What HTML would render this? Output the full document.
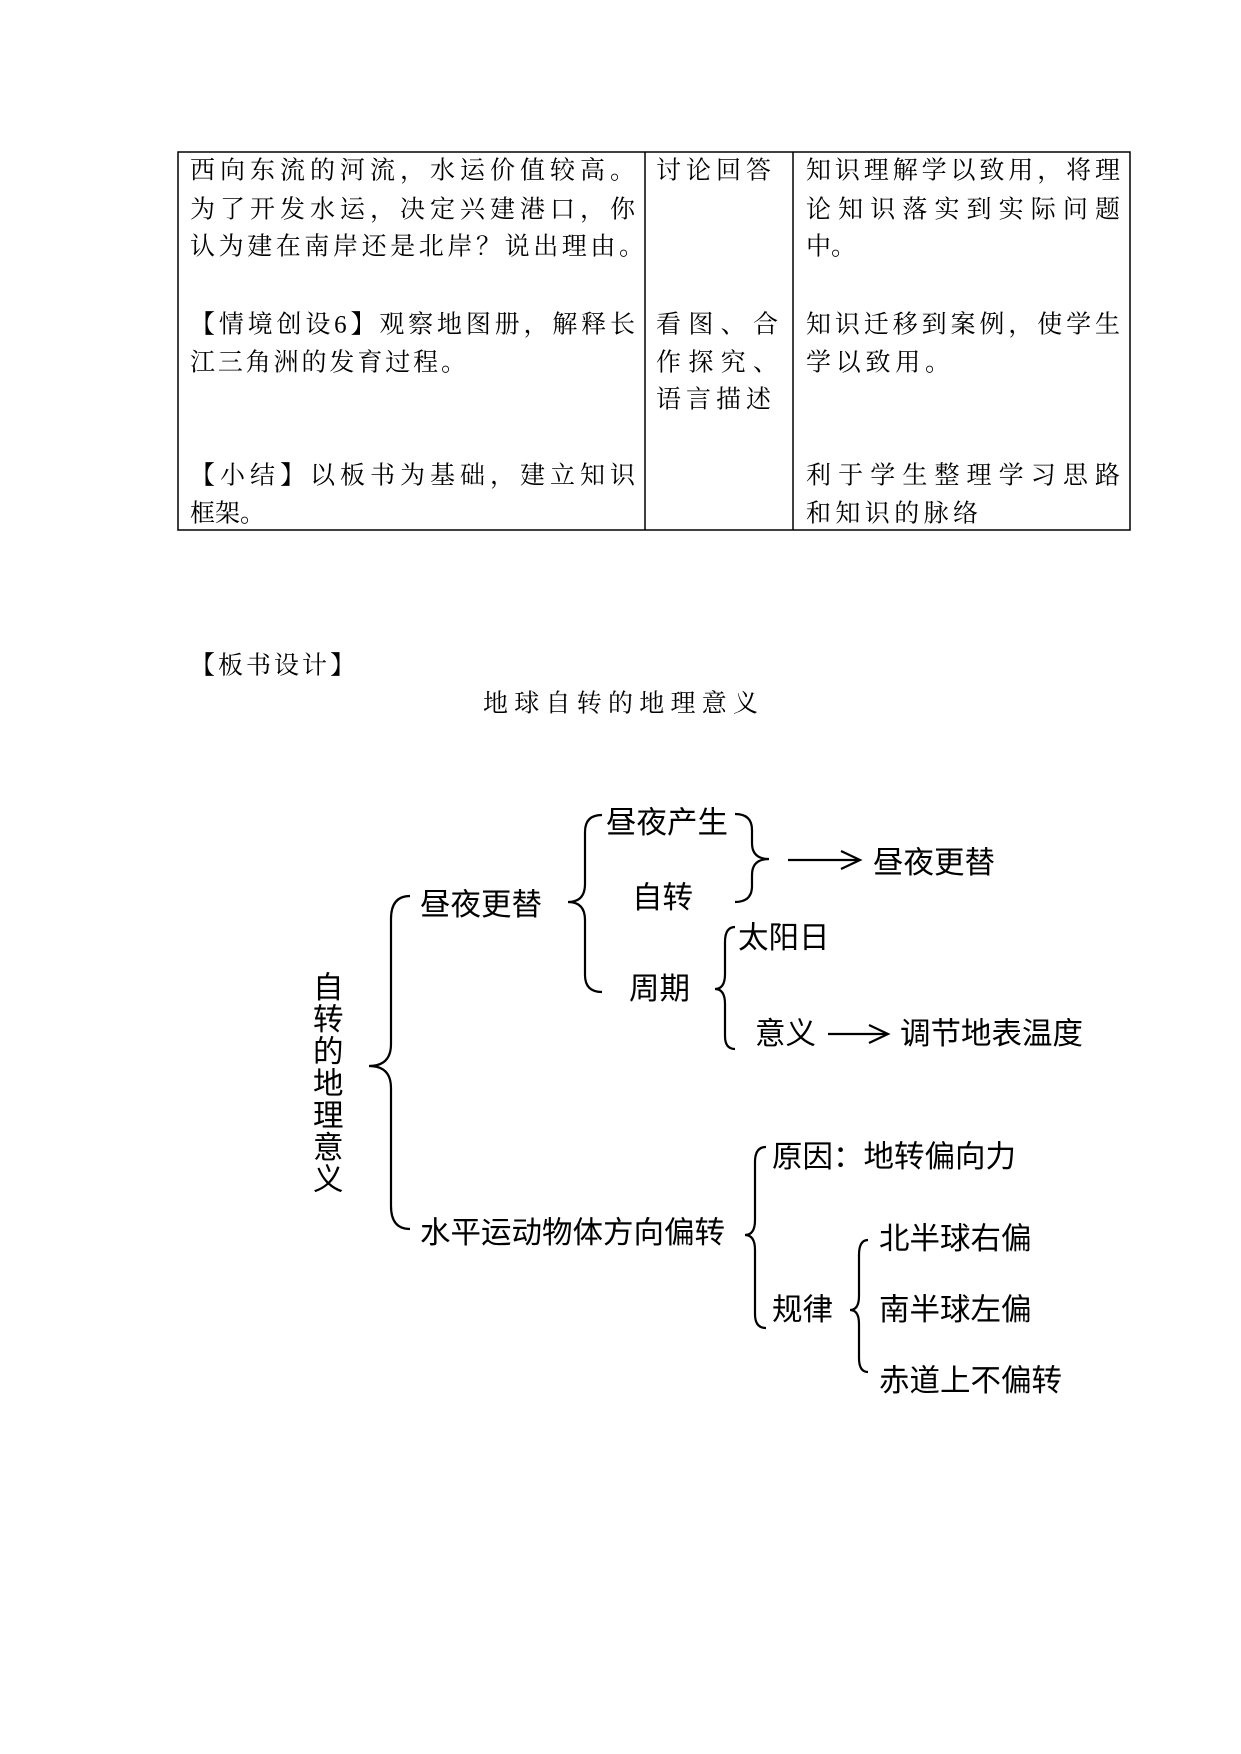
<!DOCTYPE html>
<html><head><meta charset="utf-8"><style>
html,body{margin:0;padding:0;background:#fff;}
svg{display:block}
text{font-family:"Liberation Serif","Noto Serif CJK SC",serif;fill:#000;dominant-baseline:central}
.t{font-size:25px}
.d{font-size:30.5px;font-family:"Liberation Sans","Noto Sans CJK SC",sans-serif}
</style></head><body>
<svg width="1241" height="1754" viewBox="0 0 1241 1754" xmlns="http://www.w3.org/2000/svg">
<g fill="none" stroke="#000" stroke-width="1.5">
<rect x="178" y="152" width="952" height="378"/>
<line x1="645" y1="152" x2="645" y2="530"/>
<line x1="793" y1="152" x2="793" y2="530"/>
</g>
<g class="t">
<text class="t" x="190" y="171" textLength="445" lengthAdjust="spacing">西向东流的河流，水运价值较高。</text>
<text class="t" x="190" y="210" textLength="445" lengthAdjust="spacing">为了开发水运，决定兴建港口，你</text>
<text class="t" x="190" y="247" textLength="454" lengthAdjust="spacing">认为建在南岸还是北岸？说出理由。</text>
<text class="t" x="190" y="325" textLength="445" lengthAdjust="spacing">【情境创设6】观察地图册，解释长</text>
<text class="t" x="190" y="363" textLength="276" lengthAdjust="spacing">江三角洲的发育过程。</text>
<text class="t" x="190" y="476" textLength="445" lengthAdjust="spacing">【小结】以板书为基础，建立知识</text>
<text class="t" x="190" y="514">框架。</text>
<text class="t" x="656" y="171" textLength="115" lengthAdjust="spacing">讨论回答</text>
<text class="t" x="656" y="325" textLength="122" lengthAdjust="spacing">看图、合</text>
<text class="t" x="656" y="363" textLength="122" lengthAdjust="spacing">作探究、</text>
<text class="t" x="656" y="400" textLength="115" lengthAdjust="spacing">语言描述</text>
<text class="t" x="806" y="171" textLength="314" lengthAdjust="spacing">知识理解学以致用，将理</text>
<text class="t" x="806" y="210" textLength="314" lengthAdjust="spacing">论知识落实到实际问题</text>
<text class="t" x="806" y="247">中。</text>
<text class="t" x="806" y="325" textLength="314" lengthAdjust="spacing">知识迁移到案例，使学生</text>
<text class="t" x="806" y="363" textLength="144" lengthAdjust="spacing">学以致用。</text>
<text class="t" x="806" y="476" textLength="314" lengthAdjust="spacing">利于学生整理学习思路</text>
<text class="t" x="806" y="514" textLength="172" lengthAdjust="spacing">和知识的脉络</text>
<text class="t" x="190" y="666" textLength="165" lengthAdjust="spacing">【板书设计】</text>
<text class="t" x="483" y="704" textLength="275" lengthAdjust="spacing">地球自转的地理意义</text>
</g>
<g transform="translate(-7,-6)">
<g fill="none" stroke="#000" stroke-width="2.2">
<path d="M417,902 Q398,902 398,925 L398,1050 Q398,1072 376,1072 Q398,1072 398,1094 L398,1212 Q398,1235 417,1235"/>
<path d="M609,821 Q592,821 592,838 L592,890 Q592,908 575,908 Q592,908 592,926 L592,981 Q592,998 609,998"/>
<path d="M742,820 Q759,820 759,836 L759,849 Q759,865 776,865 Q759,865 759,881 L759,892 Q759,908 742,908"/>
<path d="M742,933 Q732,933 732,948 L732,980 Q732,995 722,995 Q732,995 732,1010 L732,1042 Q732,1055 742,1055"/>
<path d="M773,1153 Q762,1153 762,1168 L762,1226 Q762,1241 752,1241 Q762,1241 762,1256 L762,1320 Q762,1334 773,1334"/>
<path d="M875,1246 Q866,1246 866,1261 L866,1302 Q866,1316 857,1316 Q866,1316 866,1330 L866,1364 Q866,1378 875,1378"/>
<line x1="795" y1="866" x2="866" y2="866"/>
<path d="M848,857 L867,866 L848,875"/>
<line x1="835" y1="1040" x2="894" y2="1040"/>
<path d="M876,1031 L895,1040 L876,1049"/>
</g>
<g>
<text class="d" x="613" y="829">昼夜产生</text>
<text class="d" x="880" y="869">昼夜更替</text>
<text class="d" x="639" y="904">自转</text>
<text class="d" x="427" y="911">昼夜更替</text>
<text class="d" x="745" y="944">太阳日</text>
<text class="d" x="636" y="995">周期</text>
<text class="d" x="762" y="1040">意义</text>
<text class="d" x="907" y="1040">调节地表温度</text>
<text class="d" x="779" y="1163">原因：地转偏向力</text>
<text class="d" x="427" y="1239">水平运动物体方向偏转</text>
<text class="d" x="886" y="1245">北半球右偏</text>
<text class="d" x="779" y="1316">规律</text>
<text class="d" x="886" y="1316">南半球左偏</text>
<text class="d" x="886" y="1387">赤道上不偏转</text>
<text class="d" x="320" y="994">自</text>
<text class="d" x="320" y="1026">转</text>
<text class="d" x="320" y="1058">的</text>
<text class="d" x="320" y="1090">地</text>
<text class="d" x="320" y="1122">理</text>
<text class="d" x="320" y="1154">意</text>
<text class="d" x="320" y="1186">义</text>
</g>
</g>
</svg>
</body></html>
